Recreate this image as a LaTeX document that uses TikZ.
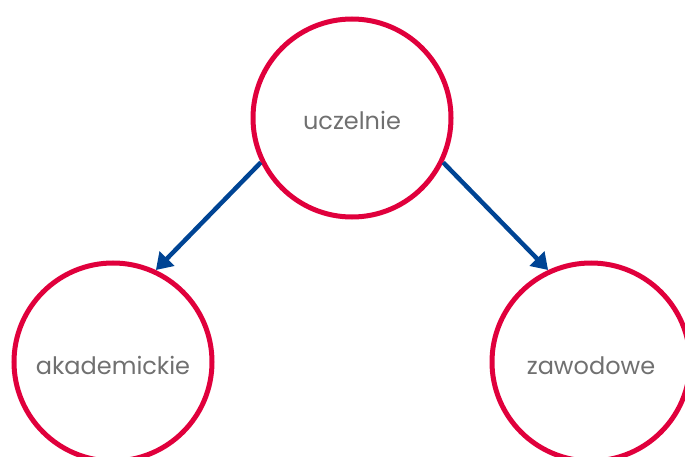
\documentclass[tikz,border=0pt]{standalone}
\usepackage{fontspec}
\setmainfont{Poppins}
\usetikzlibrary{arrows.meta}
\definecolor{ringred}{HTML}{E0003C}
\definecolor{arrowblue}{HTML}{004494}
\definecolor{labelgrey}{HTML}{707070}
\tikzset{
  ring/.style={circle, draw=ringred, line width=5pt, minimum size=198pt, inner sep=0pt,
    text=labelgrey, font=\fontsize{24pt}{28pt}\selectfont, text height=24pt, text depth=0pt},
  arrow/.style={draw=arrowblue, line width=4.5pt, -{Triangle[length=16pt,width=20pt]}}
}
\begin{document}
\begin{tikzpicture}[x=1pt, y=-1pt]
\useasboundingbox (0,0) rectangle (685,457);

\node at (352, 118) (uczelnie) [ring] {uczelnie};
\node at (113, 362) (akademickie) [ring] {akademickie};
\node at (591, 362) (zawodowe) [ring] {zawodowe};

\draw [arrow] (uczelnie.206) -- (akademickie.65);
\draw [arrow] (uczelnie.334) -- (zawodowe.115);

\end{tikzpicture}
\end{document}
